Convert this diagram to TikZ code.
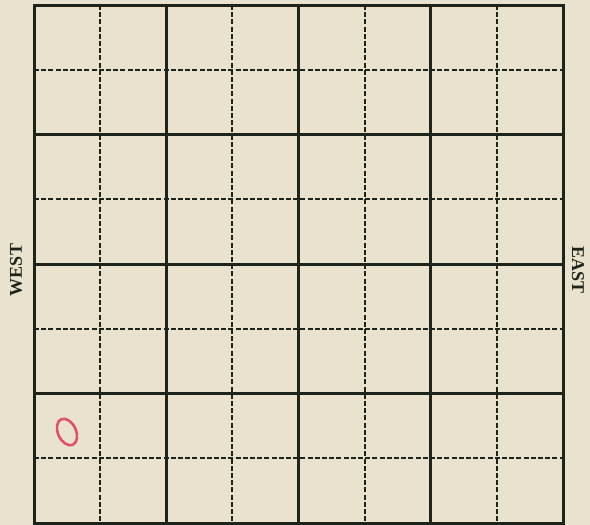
\documentclass[tikz,border=0pt]{standalone}
\usepackage{fontspec}
\setmainfont{Liberation Serif}
\usetikzlibrary{positioning}

\definecolor{paper}{HTML}{E9E2CF}
\definecolor{ink}{HTML}{1F241A}
\definecolor{pencil}{HTML}{E0506A}

\tikzset{
  major/.style={draw=ink, line width=3pt},
  minor/.style={draw=ink, line width=1.9pt, dash pattern=on 5pt off 2.2pt},
  side/.style={font=\fontsize{18}{18}\selectfont\bfseries, text=ink, inner sep=0pt},
}

\begin{document}
\begin{tikzpicture}[x=1pt,y=-1pt]
    % page
    \fill[paper] (0,0) rectangle (590,525);
    \useasboundingbox (0,0) rectangle (590,525);

    \coordinate (NW) at (34,5);
    \coordinate (SE) at (563,523);

    % dashed lines between the heavy ones
    \foreach \i in {1,3,5,7} {
      \draw[minor] (34+\i*66.125,5) -- (34+\i*66.125,523);
      \draw[minor] (34,5+\i*64.75) -- (563,5+\i*64.75);
    }
    % heavy lines every two squares
    \foreach \i in {2,4,6} {
      \draw[major] (34+\i*66.125,5) -- (34+\i*66.125,523);
      \draw[major] (34,5+\i*64.75) -- (563,5+\i*64.75);
    }
    \draw[major] (NW) rectangle (SE);

    \node[side, rotate=90] (west) at (16,270) {WEST};
    \node[side, rotate=-90] (east) at (578,270) {EAST};

    % pencil mark
    \draw[pencil, line width=2.6pt, rotate around={25:(67,432)}] (67,432) ellipse (9 and 14);
    \coordinate (mark) at (67,432);

  \end{tikzpicture}
\end{document}
